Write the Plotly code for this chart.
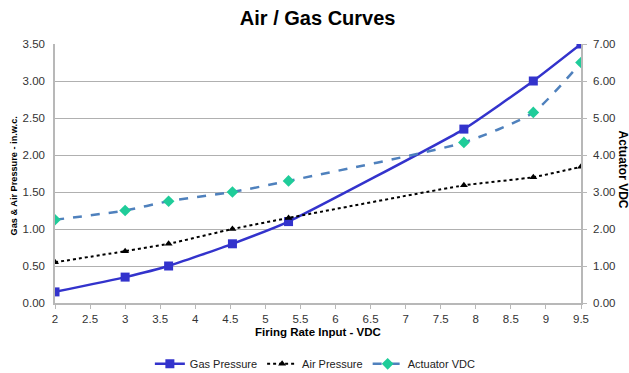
import plotly.graph_objects as go

firing_rate = [2, 3, 3.62, 4.53, 5.33, 7.83, 8.82, 9.5]
gas_pressure = [0.15, 0.35, 0.50, 0.80, 1.10, 2.35, 3.00, 3.50]
air_pressure = [0.55, 0.70, 0.80, 1.00, 1.15, 1.59, 1.70, 1.84]
actuator_vdc = [2.25, 2.50, 2.75, 3.00, 3.30, 4.34, 5.15, 6.50]

x_ticks = [2, 2.5, 3, 3.5, 4, 4.5, 5, 5.5, 6, 6.5, 7, 7.5, 8, 8.5, 9, 9.5]
x_ticklabels = ["2", "2.5", "3", "3.5", "4", "4.5", "5", "5.5", "6", "6.5", "7", "7.5", "8", "8.5", "9", "9.5"]

font_family = "Liberation Sans, Arial, sans-serif"

fig = go.Figure()
fig.add_trace(go.Scatter(
    x=firing_rate, y=gas_pressure, name="Gas Pressure", mode="lines+markers",
    line=dict(color="#3333CC", width=2.5, shape="spline", smoothing=0.4),
    marker=dict(symbol="square", size=9, color="#3333CC"),
))
fig.add_trace(go.Scatter(
    x=firing_rate, y=air_pressure, name="Air Pressure", mode="lines+markers",
    line=dict(color="#000000", width=2, dash="dot", shape="spline", smoothing=0.4),
    marker=dict(symbol="triangle-up", size=7, color="#000000"),
))
fig.add_trace(go.Scatter(
    x=firing_rate, y=actuator_vdc, name="Actuator VDC", mode="lines+markers",
    yaxis="y2",
    line=dict(color="#4F81BD", width=2.5, dash="dash", shape="spline", smoothing=0.6),
    marker=dict(symbol="diamond", size=9, color="#1FCC99"),
))

fig.update_layout(
    width=629, height=373,
    margin=dict(l=55, r=48, t=44, b=70, autoexpand=False),
    paper_bgcolor="white", plot_bgcolor="white",
    font=dict(family=font_family, size=11.5, color="#333333"),
    title=dict(text="<b>Air / Gas Curves</b>", x=0.505, xanchor="center", y=1 - 18 / 373, yanchor="middle",
               font=dict(size=20, color="#000000", family=font_family)),
    showlegend=True,
    legend=dict(orientation="h", x=0.495, xanchor="center", y=-0.235, yanchor="middle",
                font=dict(size=11, color="#222222"), itemwidth=30, tracegroupgap=0),
    xaxis=dict(
        range=[2, 9.5], tickvals=x_ticks, ticktext=x_ticklabels, automargin=False,
        showgrid=False, zeroline=False, showline=True, linecolor="#B8B8B8", linewidth=1.5,
        ticks="outside", ticklen=4, tickcolor="#B8B8B8",
    ),
    yaxis=dict(
        range=[0, 3.5], dtick=0.5, tickformat=".2f", automargin=False, ticklabelstandoff=6,
        showgrid=True, gridcolor="#B0B0B0", gridwidth=1, zeroline=False,
        showline=True, linecolor="#B8B8B8", linewidth=1.5, ticks="",
    ),
    yaxis2=dict(
        range=[0, 7], dtick=1, tickformat=".2f", overlaying="y", side="right", automargin=False,
        ticklabelstandoff=4,
        showgrid=False, zeroline=False, showline=True, linecolor="#B8B8B8", linewidth=1.5,
        ticks="outside", ticklen=4, tickcolor="#B8B8B8",
    ),
    annotations=[
        dict(text="<b>Actuator VDC</b>", textangle=90, xref="paper", yref="paper",
             x=1.0, y=0.5, xshift=42, yshift=4, showarrow=False, xanchor="center", yanchor="middle",
             font=dict(size=12, color="#000000", family=font_family)),
        dict(text="<b>Gas & Air Pressure - in.w.c.</b>", textangle=-90, xref="paper", yref="paper",
             x=0.0, y=0.5, xshift=-42, yshift=-3, showarrow=False, xanchor="center", yanchor="middle",
             font=dict(size=9.2, color="#000000", family=font_family)),
        dict(text="<b>Firing Rate Input - VDC</b>", xref="paper", yref="paper",
             x=0.5, y=0.0, yshift=-29, showarrow=False, xanchor="center", yanchor="middle",
             font=dict(size=11.5, color="#000000", family=font_family)),
    ],
)

fig.write_html("out.html", config={"displayModeBar": False},
               post_script="document.body.style.margin='0';document.body.style.overflow='hidden';")
